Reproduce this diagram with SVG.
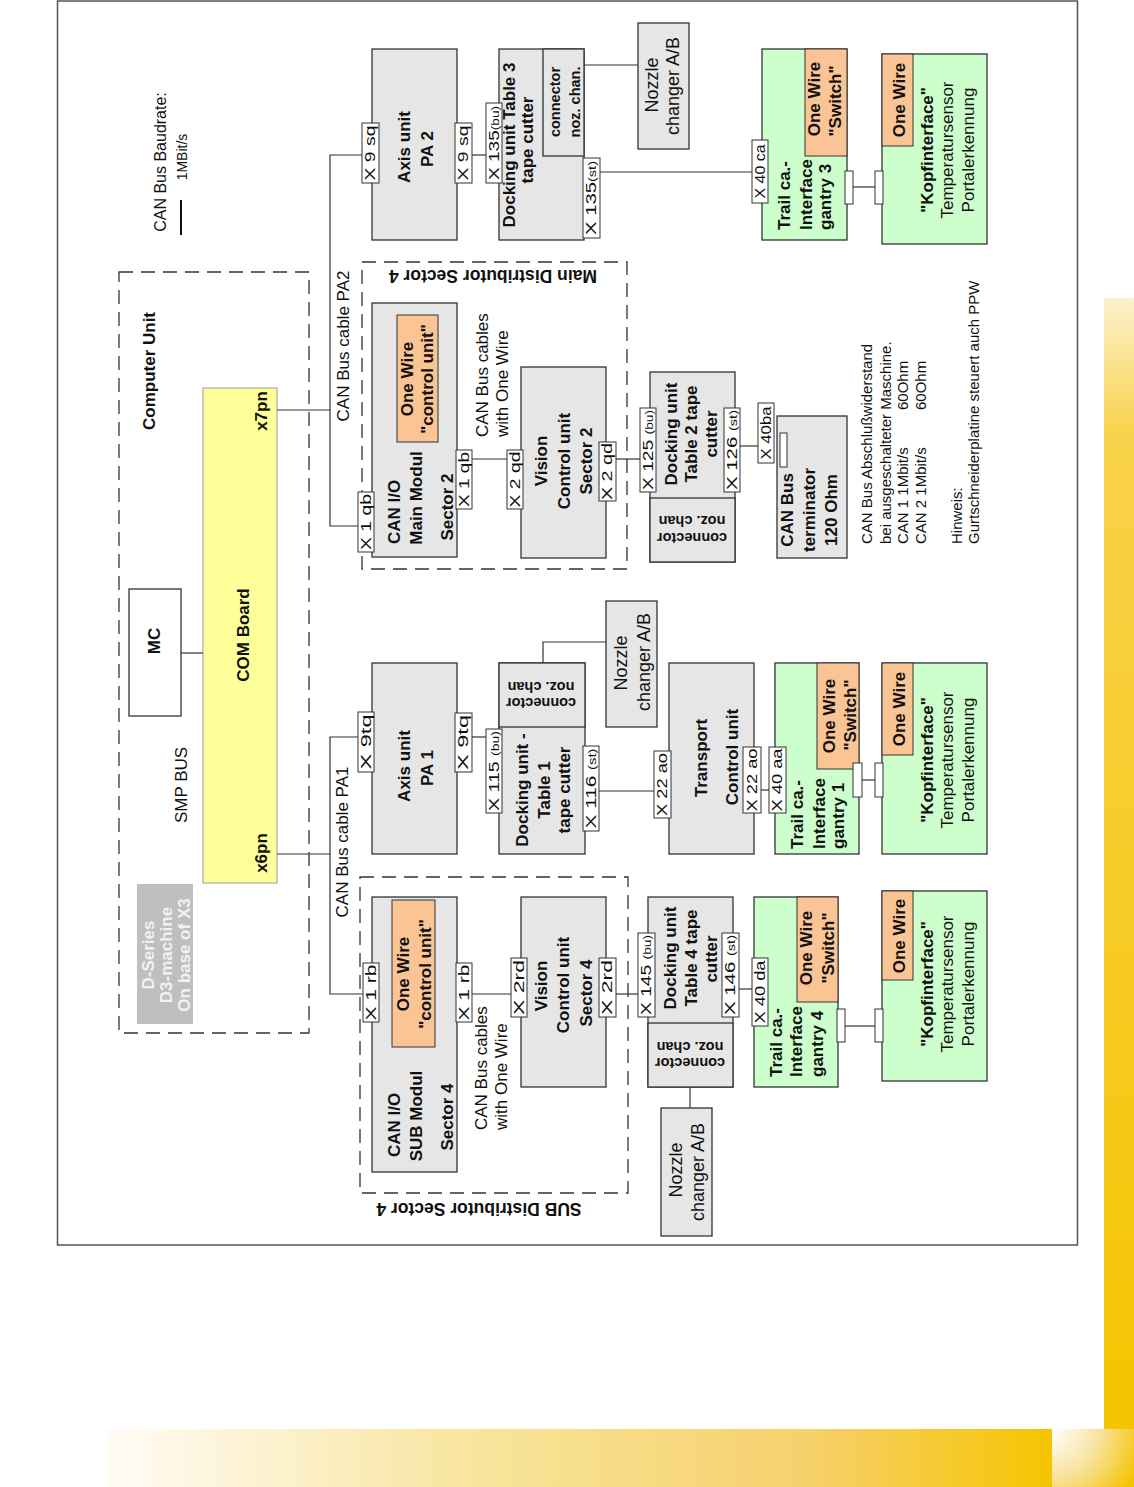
<svg xmlns="http://www.w3.org/2000/svg" width="1134" height="1487" viewBox="0 0 1134 1487">
<defs>
<style>
.bx{fill:#e6e6e6;stroke:#333;stroke-width:1.3}
.wb{fill:#fff;stroke:#333;stroke-width:1.3}
.or{fill:#fbc495;stroke:#333;stroke-width:1}
.gr{fill:#ccffcc;stroke:#333;stroke-width:1.3}
.pt{fill:#fff;stroke:#333;stroke-width:1}
.ds{fill:none;stroke:#333;stroke-width:1.3;stroke-dasharray:14 8}
.ln{fill:none;stroke:#333;stroke-width:1.2}
text{font-family:"Liberation Sans",Arial,sans-serif;fill:#111}
.b{font-weight:bold;font-size:17px;text-anchor:middle}
.n{font-size:17px;text-anchor:middle}
.nz{font-size:18px;text-anchor:middle}
.p{font-size:14px;text-anchor:middle}
.cn{font-weight:bold;font-size:14.5px;text-anchor:middle}
.nt{font-size:15px;text-anchor:start}
.dl{font-weight:bold;font-size:17.5px;text-anchor:middle}
.st{text-anchor:start}
</style>
<linearGradient id="gV" x1="0" y1="298" x2="0" y2="1431" gradientUnits="userSpaceOnUse">
<stop offset="0" stop-color="#fdf1cc"/><stop offset="0.12" stop-color="#f8d24a"/><stop offset="1" stop-color="#f5c400"/>
</linearGradient>
<linearGradient id="gH" x1="106" y1="0" x2="1052" y2="0" gradientUnits="userSpaceOnUse">
<stop offset="0" stop-color="#fffcf6"/><stop offset="0.4" stop-color="#f8e49a"/><stop offset="0.75" stop-color="#f6d06a"/><stop offset="1" stop-color="#f5c400"/>
</linearGradient>
<radialGradient id="gC" cx="1052" cy="1429" r="95" gradientUnits="userSpaceOnUse">
<stop offset="0" stop-color="#ffffff"/><stop offset="0.5" stop-color="#f8e3a0"/><stop offset="1" stop-color="#f5c400"/>
</radialGradient>
</defs>
<rect x="0" y="0" width="1134" height="1487" fill="#fff"/>
<g id="decoration">
<rect x="1104" y="298" width="30" height="1133" fill="url(#gV)"/>
<rect x="106" y="1429" width="946" height="58" fill="url(#gH)"/>
<rect x="1052" y="1429" width="82" height="58" fill="url(#gC)"/>
</g>
<rect id="frame" x="57.5" y="1" width="1020" height="1244" fill="none" stroke="#555" stroke-width="1.5"/>

<g id="legend">
<text class="n" style="font-size:16px" transform="translate(166 162) rotate(-90)">CAN Bus Baudrate:</text>
<text class="n" style="font-size:14px" transform="translate(187 157) rotate(-90)">1MBit/s</text>
<line x1="181" y1="200" x2="181" y2="235" stroke="#111" stroke-width="2"/>
</g>

<g id="computer-unit">
<rect class="ds" x="119" y="272" width="190" height="761"/>
<text class="b" transform="translate(155 371) rotate(-90)">Computer Unit</text>
<text class="n" transform="translate(187 785) rotate(-90)">SMP BUS</text>
</g>
<g id="com-board">
<rect x="203" y="388" width="74" height="495" fill="#ffff99" stroke="#999" stroke-width="1"/>
<text class="b" transform="translate(249 635) rotate(-90)">COM Board</text>
<text class="b" transform="translate(267 411) rotate(-90)">x7pn</text>
<text class="b" transform="translate(267 853) rotate(-90)">x6pn</text>
</g>
<g id="mc">
<rect class="wb" x="129" y="589" width="52" height="127"/>
<text class="b" transform="translate(160 641) rotate(-90)">MC</text>
</g>
<g id="d-series">
<rect x="137" y="884" width="56" height="140" fill="#bfbfbf"/>
<text class="b" style="fill:#f2f2f2" transform="translate(154 955) rotate(-90)">D-Series</text>
<text class="b" style="fill:#f2f2f2" transform="translate(172 955) rotate(-90)">D3-machine</text>
<text class="b" style="fill:#f2f2f2" transform="translate(190 955) rotate(-90)">On base of X3</text>
</g>

<g id="cable-labels">
<text class="n" transform="translate(349 346) rotate(-90)">CAN Bus cable PA2</text>
<text class="n" transform="translate(348 842) rotate(-90)">CAN Bus cable PA1</text>
</g>

<g id="main-distributor">
<rect class="ds" x="362" y="262" width="265" height="307"/>
<text class="dl" transform="translate(493 270) rotate(180)">Main Distributor Sector 4</text>
<text class="n st" transform="translate(488 437) rotate(-90)">CAN Bus cables</text>
<text class="n st" transform="translate(508 437) rotate(-90)">with One Wire</text>
</g>
<g id="sub-distributor">
<rect class="ds" x="360" y="877" width="268" height="316"/>
<text class="dl" transform="translate(479 1203) rotate(180)">SUB Distributor Sector 4</text>
<text class="n st" transform="translate(487 1130) rotate(-90)">CAN Bus cables</text>
<text class="n st" transform="translate(507 1130) rotate(-90)">with One Wire</text>
</g>

<g id="connectors">
<polyline class="ln" points="277,410 330,410"/>
<polyline class="ln" points="362,155 330,155 330,526 358,526"/>
<polyline class="ln" points="472,155 486,155"/>
<polyline class="ln" points="472,459 507,459"/>
<polyline class="ln" points="616,459 640,459"/>
<polyline class="ln" points="740,446 758,446"/>
<polyline class="ln" points="600,172 752,172"/>
<polyline class="ln" points="580,65 638,65"/>
<polyline class="ln" points="277,854 330,854"/>
<polyline class="ln" points="358,737 330,737 330,994 363,994"/>
<polyline class="ln" points="472,737 486,737"/>
<polyline class="ln" points="599,791 654,791"/>
<polyline class="ln" points="543,663 543,642 606,642"/>
<polyline class="ln" points="761,790 769,790"/>
<polyline class="ln" points="472,994 511,994"/>
<polyline class="ln" points="616,994 638,994"/>
<polyline class="ln" points="739,989 752,989"/>
<polyline class="ln" points="690,1087 690,1108"/>
<polyline class="ln" points="181,653 203,653"/>
<polyline class="ln" points="853,187 875,187"/>
<polyline class="ln" points="862,780 875,780"/>
<polyline class="ln" points="845,1026 875,1026"/>
</g>

<g id="axis-pa2">
<rect class="bx" x="372" y="49" width="85" height="191"/>
<text class="b" transform="translate(410 147) rotate(-90)">Axis unit</text>
<text class="b" transform="translate(433 149) rotate(-90)">PA 2</text>
</g>
<g id="docking-table3">
<rect class="bx" x="499" y="49" width="85" height="191"/>
<rect class="bx" x="543" y="49" width="41" height="107"/>
<text class="b" transform="translate(515 145) rotate(-90)">Docking unit Table 3</text>
<text class="b" transform="translate(533 140) rotate(-90)">tape cutter</text>
<text class="cn" transform="translate(560 102) rotate(-90)">connector</text>
<text class="cn" transform="translate(580 102) rotate(-90)">noz. chan.</text>
</g>
<g id="nozzle-top">
<rect class="bx" x="638" y="23" width="51" height="126"/>
<text class="nz" transform="translate(658 85) rotate(-90)">Nozzle</text>
<text class="nz" transform="translate(679 86) rotate(-90)">changer A/B</text>
</g>
<g id="gantry3">
<rect class="gr" x="762" y="49" width="85" height="191"/>
<rect class="or" x="805" y="49" width="42" height="107"/>
<text class="b" transform="translate(820 99) rotate(-90)">One Wire</text>
<text class="b" transform="translate(841 101) rotate(-90)">"Switch"</text>
<text class="b st" transform="translate(790 230) rotate(-90)">Trail ca.-</text>
<text class="b st" transform="translate(812 230) rotate(-90)">Interface</text>
<text class="b st" transform="translate(831 230) rotate(-90)">gantry 3</text>
<rect class="pt" x="845" y="171" width="8" height="33"/>
</g>
<g id="kopf-top">
<rect class="gr" x="882" y="54" width="105" height="190"/>
<rect class="or" x="882" y="54" width="31" height="92"/>
<text class="b" transform="translate(905 100) rotate(-90)">One Wire</text>
<text class="b" transform="translate(933 150) rotate(-90)">"Kopfinterface"</text>
<text class="n" transform="translate(953 150) rotate(-90)">Temperatursensor</text>
<text class="n" transform="translate(974 150) rotate(-90)">Portalerkennung</text>
<rect class="pt" x="875" y="171" width="8" height="33"/>
</g>

<g id="canio-main">
<rect class="bx" x="372" y="303" width="85" height="254"/>
<rect class="or" x="397" y="315" width="41" height="127"/>
<text class="b" transform="translate(413 379) rotate(-90)">One Wire</text>
<text class="b" transform="translate(433 379) rotate(-90)">"control unit"</text>
<text class="b" transform="translate(400 512) rotate(-90)">CAN I/O</text>
<text class="b" transform="translate(422 498) rotate(-90)">Main Modul</text>
<text class="b" transform="translate(453 507) rotate(-90)">Sector 2</text>
</g>
<g id="vision-s2">
<rect class="bx" x="521" y="367" width="85" height="191"/>
<text class="b" transform="translate(547 461) rotate(-90)">Vision</text>
<text class="b" transform="translate(570 461) rotate(-90)">Control unit</text>
<text class="b" transform="translate(592 461) rotate(-90)">Sector 2</text>
</g>
<g id="docking-table2">
<rect class="bx" x="650" y="372" width="85" height="190"/>
<rect class="bx" x="650" y="498" width="85" height="64"/>
<text class="b" transform="translate(677 434) rotate(-90)">Docking unit</text>
<text class="b" transform="translate(697 434) rotate(-90)">Table 2 tape</text>
<text class="b" transform="translate(717 434) rotate(-90)">cutter</text>
<text class="cn" transform="translate(692 533) rotate(180)">connector</text>
<text class="cn" transform="translate(692 516) rotate(180)">noz. chan</text>
</g>
<g id="terminator">
<rect class="bx" x="777" y="416" width="70" height="142"/>
<rect class="pt" x="780" y="433" width="7" height="34"/>
<text class="b" transform="translate(793 510) rotate(-90)">CAN Bus</text>
<text class="b" transform="translate(815 510) rotate(-90)">terminator</text>
<text class="b" transform="translate(837 510) rotate(-90)">120 Ohm</text>
</g>
<g id="notes">
<text class="nt" transform="translate(872 544) rotate(-90)">CAN Bus Abschlußwiderstand</text>
<text class="nt" transform="translate(891 544) rotate(-90)">bei ausgeschalteter Maschine.</text>
<text class="nt" transform="translate(908 544) rotate(-90)">CAN 1 1Mbit/s</text>
<text class="nt" transform="translate(908 410) rotate(-90)">60Ohm</text>
<text class="nt" transform="translate(926 544) rotate(-90)">CAN 2 1Mbit/s</text>
<text class="nt" transform="translate(926 410) rotate(-90)">60Ohm</text>
<text class="nt" transform="translate(962 544) rotate(-90)">Hinweis:</text>
<text class="nt" transform="translate(979 544) rotate(-90)">Gurtschneiderplatine steuert auch PPW</text>
</g>

<g id="axis-pa1">
<rect class="bx" x="372" y="663" width="85" height="191"/>
<text class="b" transform="translate(410 766) rotate(-90)">Axis unit</text>
<text class="b" transform="translate(433 768) rotate(-90)">PA 1</text>
</g>
<g id="docking-table1">
<rect class="bx" x="499" y="663" width="86" height="191"/>
<rect class="bx" x="499" y="663" width="86" height="64"/>
<text class="cn" transform="translate(541 698) rotate(180)">connector</text>
<text class="cn" transform="translate(541 682) rotate(180)">noz. chan</text>
<text class="b" transform="translate(528 790) rotate(-90)">Docking unit -</text>
<text class="b" transform="translate(550 790) rotate(-90)">Table 1</text>
<text class="b" transform="translate(570 790) rotate(-90)">tape cutter</text>
</g>
<g id="nozzle-mid">
<rect class="bx" x="606" y="601" width="51" height="126"/>
<text class="nz" transform="translate(627 663) rotate(-90)">Nozzle</text>
<text class="nz" transform="translate(650 662) rotate(-90)">changer A/B</text>
</g>
<g id="transport">
<rect class="bx" x="669" y="663" width="85" height="191"/>
<text class="b" transform="translate(707 758) rotate(-90)">Transport</text>
<text class="b" transform="translate(738 757) rotate(-90)">Control unit</text>
</g>
<g id="gantry1">
<rect class="gr" x="775" y="663" width="84" height="191"/>
<rect class="or" x="817" y="663" width="42" height="106"/>
<text class="b" transform="translate(835 716) rotate(-90)">One Wire</text>
<text class="b" transform="translate(856 715) rotate(-90)">"Switch"</text>
<text class="b st" transform="translate(803 849) rotate(-90)">Trail ca.-</text>
<text class="b st" transform="translate(825 849) rotate(-90)">Interface</text>
<text class="b st" transform="translate(844 849) rotate(-90)">gantry 1</text>
<rect class="pt" x="853" y="763" width="9" height="34"/>
</g>
<g id="kopf-mid">
<rect class="gr" x="882" y="663" width="105" height="191"/>
<rect class="or" x="882" y="663" width="31" height="92"/>
<text class="b" transform="translate(905 709) rotate(-90)">One Wire</text>
<text class="b" transform="translate(933 760) rotate(-90)">"Kopfinterface"</text>
<text class="n" transform="translate(953 760) rotate(-90)">Temperatursensor</text>
<text class="n" transform="translate(974 760) rotate(-90)">Portalerkennung</text>
<rect class="pt" x="875" y="763" width="8" height="34"/>
</g>

<g id="canio-sub">
<rect class="bx" x="372" y="897" width="85" height="275"/>
<rect class="or" x="392" y="900" width="43" height="147"/>
<text class="b" transform="translate(409 974) rotate(-90)">One Wire</text>
<text class="b" transform="translate(431 974) rotate(-90)">"control unit"</text>
<text class="b" transform="translate(400 1125) rotate(-90)">CAN I/O</text>
<text class="b" transform="translate(422 1116) rotate(-90)">SUB Modul</text>
<text class="b" transform="translate(453 1117) rotate(-90)">Sector 4</text>
</g>
<g id="vision-s4">
<rect class="bx" x="521" y="897" width="85" height="190"/>
<text class="b" transform="translate(547 986) rotate(-90)">Vision</text>
<text class="b" transform="translate(569 985) rotate(-90)">Control unit</text>
<text class="b" transform="translate(592 993) rotate(-90)">Sector 4</text>
</g>
<g id="docking-table4">
<rect class="bx" x="648" y="897" width="85" height="190"/>
<rect class="bx" x="648" y="1023" width="85" height="64"/>
<text class="b" transform="translate(676 958) rotate(-90)">Docking unit</text>
<text class="b" transform="translate(697 958) rotate(-90)">Table 4 tape</text>
<text class="b" transform="translate(717 959) rotate(-90)">cutter</text>
<text class="cn" transform="translate(690 1058) rotate(180)">connector</text>
<text class="cn" transform="translate(690 1042) rotate(180)">noz. chan</text>
</g>
<g id="nozzle-bottom">
<rect class="bx" x="661" y="1108" width="51" height="128"/>
<text class="nz" transform="translate(682 1170) rotate(-90)">Nozzle</text>
<text class="nz" transform="translate(704 1172) rotate(-90)">changer A/B</text>
</g>
<g id="gantry4">
<rect class="gr" x="754" y="897" width="84" height="190"/>
<rect class="or" x="797" y="897" width="41" height="105"/>
<text class="b" transform="translate(812 948) rotate(-90)">One Wire</text>
<text class="b" transform="translate(834 948) rotate(-90)">"Switch"</text>
<text class="b st" transform="translate(782 1077) rotate(-90)">Trail ca.-</text>
<text class="b st" transform="translate(802 1077) rotate(-90)">Interface</text>
<text class="b st" transform="translate(823 1077) rotate(-90)">gantry 4</text>
<rect class="pt" x="837" y="1009" width="8" height="33"/>
</g>
<g id="kopf-bottom">
<rect class="gr" x="882" y="891" width="105" height="190"/>
<rect class="or" x="882" y="891" width="31" height="89"/>
<text class="b" transform="translate(905 936) rotate(-90)">One Wire</text>
<text class="b" transform="translate(933 984) rotate(-90)">"Kopfinterface"</text>
<text class="n" transform="translate(953 984) rotate(-90)">Temperatursensor</text>
<text class="n" transform="translate(974 984) rotate(-90)">Portalerkennung</text>
<rect class="pt" x="875" y="1009" width="8" height="33"/>
</g>

<g id="ports">
<rect class="pt" x="362" y="123" width="17" height="60"/>
<text class="p" transform="translate(375 153) rotate(-90)" textLength="55" lengthAdjust="spacingAndGlyphs">X 9 sq</text>
<rect class="pt" x="455" y="123" width="17" height="60"/>
<text class="p" transform="translate(468 153) rotate(-90)" textLength="55" lengthAdjust="spacingAndGlyphs">X 9 sq</text>
<rect class="pt" x="486" y="103" width="16" height="80"/>
<text class="p" transform="translate(498.5 143) rotate(-90)" textLength="74" lengthAdjust="spacingAndGlyphs">X 135<tspan font-size="10">(bu)</tspan></text>
<rect class="pt" x="583" y="158" width="17" height="80"/>
<text class="p" transform="translate(596 198) rotate(-90)" textLength="74" lengthAdjust="spacingAndGlyphs">X 135<tspan font-size="10">(st)</tspan></text>
<rect class="pt" x="752" y="140" width="16" height="63"/>
<text class="p" transform="translate(764.5 171.5) rotate(-90)" textLength="54" lengthAdjust="spacingAndGlyphs">X 40 ca</text>
<rect class="pt" x="358" y="492" width="16" height="60"/>
<text class="p" transform="translate(370.5 522) rotate(-90)" textLength="56" lengthAdjust="spacingAndGlyphs">X 1 qb</text>
<rect class="pt" x="456" y="450" width="16" height="59"/>
<text class="p" transform="translate(468.5 479.5) rotate(-90)" textLength="55" lengthAdjust="spacingAndGlyphs">X 1 qb</text>
<rect class="pt" x="507" y="450" width="16" height="59"/>
<text class="p" transform="translate(519.5 479.5) rotate(-90)" textLength="56" lengthAdjust="spacingAndGlyphs">X 2 qd</text>
<rect class="pt" x="599" y="442" width="17" height="59"/>
<text class="p" transform="translate(612 471.5) rotate(-90)" textLength="57" lengthAdjust="spacingAndGlyphs">X 2 qd</text>
<rect class="pt" x="640" y="408" width="16" height="84"/>
<text class="p" transform="translate(652.5 450) rotate(-90)" textLength="80" lengthAdjust="spacingAndGlyphs">X 125 <tspan font-size="10">(bu)</tspan></text>
<rect class="pt" x="724" y="408" width="16" height="84"/>
<text class="p" transform="translate(736.5 450) rotate(-90)" textLength="80" lengthAdjust="spacingAndGlyphs">X 126 <tspan font-size="10">(st)</tspan></text>
<rect class="pt" x="758" y="403" width="16" height="60"/>
<text class="p" transform="translate(770.5 433) rotate(-90)" textLength="53" lengthAdjust="spacingAndGlyphs">X 40ba</text>
<rect class="pt" x="358" y="712" width="16" height="60"/>
<text class="p" transform="translate(370.5 742) rotate(-90)" textLength="55" lengthAdjust="spacingAndGlyphs">X 9tq</text>
<rect class="pt" x="455" y="713" width="17" height="59"/>
<text class="p" transform="translate(468 742.5) rotate(-90)" textLength="55" lengthAdjust="spacingAndGlyphs">X 9tq</text>
<rect class="pt" x="486" y="729" width="16" height="84"/>
<text class="p" transform="translate(498.5 771) rotate(-90)" textLength="80" lengthAdjust="spacingAndGlyphs">X 115 <tspan font-size="10">(bu)</tspan></text>
<rect class="pt" x="583" y="746" width="16" height="85"/>
<text class="p" transform="translate(595.5 788.5) rotate(-90)" textLength="80" lengthAdjust="spacingAndGlyphs">X 116 <tspan font-size="10">(st)</tspan></text>
<rect class="pt" x="654" y="751" width="17" height="67"/>
<text class="p" transform="translate(667 784.5) rotate(-90)" textLength="63" lengthAdjust="spacingAndGlyphs">X 22 ao</text>
<rect class="pt" x="743" y="747" width="18" height="66"/>
<text class="p" transform="translate(756.5 780) rotate(-90)" textLength="63" lengthAdjust="spacingAndGlyphs">X 22 ao</text>
<rect class="pt" x="769" y="747" width="17" height="66"/>
<text class="p" transform="translate(782 780) rotate(-90)" textLength="63" lengthAdjust="spacingAndGlyphs">X 40 aa</text>
<rect class="pt" x="363" y="963" width="16" height="59"/>
<text class="p" transform="translate(375.5 992.5) rotate(-90)" textLength="56" lengthAdjust="spacingAndGlyphs">X 1 rb</text>
<rect class="pt" x="456" y="963" width="16" height="59"/>
<text class="p" transform="translate(468.5 992.5) rotate(-90)" textLength="56" lengthAdjust="spacingAndGlyphs">X 1 rb</text>
<rect class="pt" x="511" y="958" width="16" height="59"/>
<text class="p" transform="translate(523.5 987.5) rotate(-90)" textLength="55" lengthAdjust="spacingAndGlyphs">X 2rd</text>
<rect class="pt" x="599" y="958" width="17" height="59"/>
<text class="p" transform="translate(612 987.5) rotate(-90)" textLength="55" lengthAdjust="spacingAndGlyphs">X 2rd</text>
<rect class="pt" x="638" y="933" width="17" height="84"/>
<text class="p" transform="translate(651 975) rotate(-90)" textLength="80" lengthAdjust="spacingAndGlyphs">X 145 <tspan font-size="10">(bu)</tspan></text>
<rect class="pt" x="722" y="933" width="17" height="84"/>
<text class="p" transform="translate(735 975) rotate(-90)" textLength="80" lengthAdjust="spacingAndGlyphs">X 146 <tspan font-size="10">(st)</tspan></text>
<rect class="pt" x="752" y="958" width="16" height="68"/>
<text class="p" transform="translate(764.5 992) rotate(-90)" textLength="63" lengthAdjust="spacingAndGlyphs">X 40 da</text>
</g>
</svg>
